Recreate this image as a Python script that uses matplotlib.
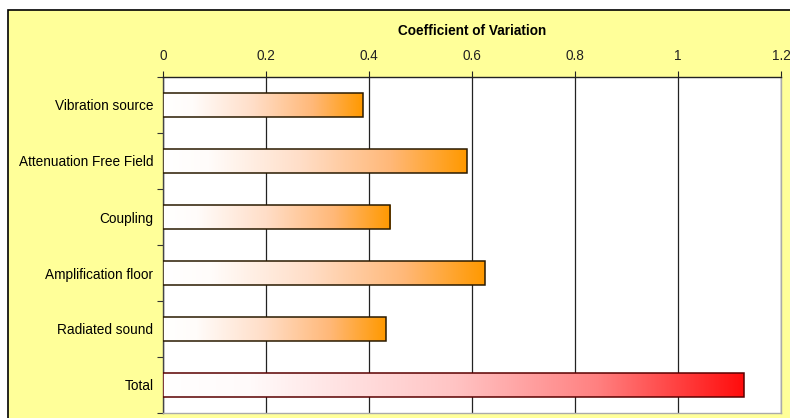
import matplotlib
matplotlib.use("Agg")
import matplotlib.pyplot as plt
import numpy as np
from matplotlib.colors import LinearSegmentedColormap
from matplotlib.patches import Rectangle

plt.rcParams["font.family"] = ["Liberation Sans", "DejaVu Sans"]

# ── Data ─────────────────────────────────────────────────────────────────────
categories = [
    "Vibration source",
    "Attenuation Free Field",
    "Coupling",
    "Amplification floor",
    "Radiated sound",
    "Total",
]
cov_values = [0.388, 0.590, 0.441, 0.625, 0.433, 1.128]
is_total = [False, False, False, False, False, True]
x_ticks = [0, 0.2, 0.4, 0.6, 0.8, 1.0, 1.2]
x_ticklabels = ["0", "0.2", "0.4", "0.6", "0.8", "1", "1.2"]

# gradient fills: white -> orange for the parts, white -> red for the total
orange_fill = LinearSegmentedColormap.from_list("orange_fill", [
    (0.0, "#FFFFFF"), (0.15, "#FFFCFA"), (0.45, "#FFDEC8"),
    (0.75, "#FFB878"), (1.0, "#FF9900")])
red_fill = LinearSegmentedColormap.from_list("red_fill", [
    (0.0, "#FFFFFF"), (0.15, "#FFFAFA"), (0.5, "#FFC4C4"),
    (0.75, "#FF8080"), (1.0, "#FF0D0D")])

# ── Figure ───────────────────────────────────────────────────────────────────
fig = plt.figure(figsize=(7.9, 4.18), dpi=100)
fig.patch.set_facecolor("white")

# yellow chart area with black frame (runs past right/bottom edge)
fig.patches.append(Rectangle((8 / 790, -0.05), 1.0, 1 - 10 / 418 + 0.05,
                             transform=fig.transFigure, facecolor="#FFFF99",
                             edgecolor="black", linewidth=1.2, zorder=-10))

ax = fig.add_axes([163 / 790, 1 - 413 / 418, (781 - 163) / 790, (413 - 77) / 418])
ax.set_facecolor("white")

bar_h = 0.42
grad = np.linspace(0, 1, 256).reshape(1, -1)
for i, (v, tot) in enumerate(zip(cov_values, is_total)):
    cmap = red_fill if tot else orange_fill
    ec = "#5a0000" if tot else "#2a1a00"
    ax.imshow(grad, cmap=cmap, aspect="auto", interpolation="bilinear",
              extent=[0, v, i + bar_h / 2, i - bar_h / 2], zorder=3)
    ax.barh(i, v, height=bar_h, facecolor="none", edgecolor=ec,
            linewidth=1.1, zorder=4)

ax.set_xlim(0, 1.2)
ax.set_ylim(len(categories) - 0.5, -0.5)

# x axis on top
ax.xaxis.set_ticks_position("top")
ax.xaxis.set_label_position("top")
ax.set_xticks(x_ticks)
ax.set_xticklabels(x_ticklabels, fontsize=9.8)
ax.tick_params(axis="x", direction="out", length=4, width=0.8, pad=6, colors="#222222")
ax.set_xlabel("Coefficient of Variation", fontsize=9.8, fontweight="bold", labelpad=10)
ax.grid(axis="x", color="#222222", linewidth=0.9, zorder=1)
ax.set_axisbelow(True)

# y ticks at category boundaries, labels at centers
ax.set_yticks(np.arange(-0.5, len(categories), 1.0))
ax.set_yticklabels([])
ax.set_yticks(np.arange(len(categories)), minor=True)
ax.set_yticklabels(categories, minor=True, fontsize=9.8)
ax.tick_params(axis="y", which="major", direction="out", length=4, width=0.8, colors="#333333")
ax.tick_params(axis="y", which="minor", length=0, pad=7)

ax.spines["top"].set_color("#222222")
ax.spines["left"].set_color("#444444")
ax.spines["right"].set_color("#aaaaaa")
ax.spines["bottom"].set_color("#aaaaaa")
for s in ax.spines.values():
    s.set_linewidth(1.0)

plt.savefig("out.png", dpi=100, facecolor="white")
